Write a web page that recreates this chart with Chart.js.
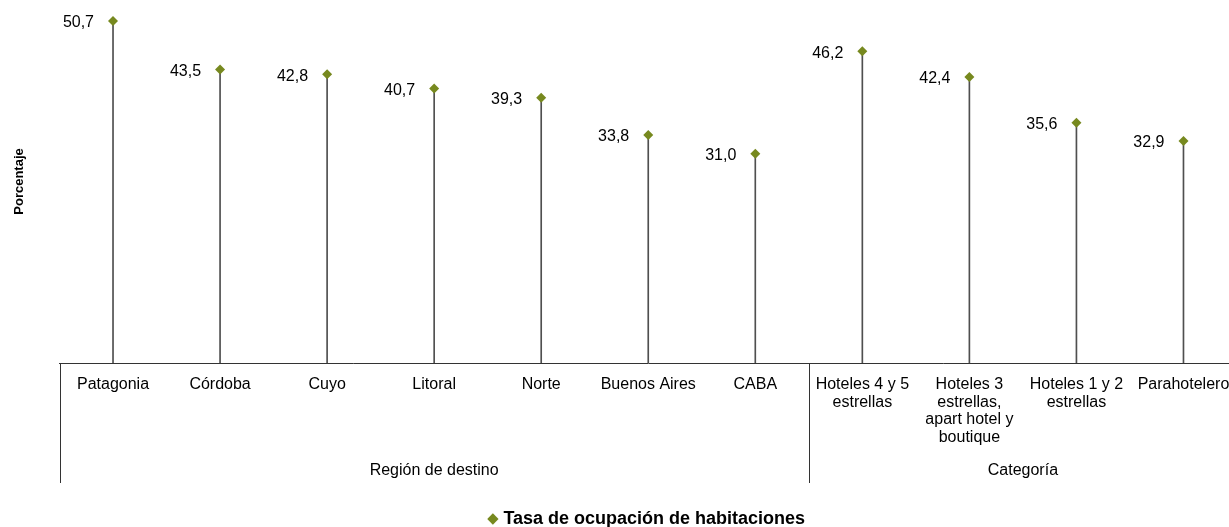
<!DOCTYPE html>
<html>
<head>
<meta charset="utf-8">
<script src="https://cdn.jsdelivr.net/npm/chart.js@4/dist/chart.umd.min.js"></script>
<style>
  html, body { margin: 0; padding: 0; background: #fff; overflow: hidden; }
  #wrap { width: 1237px; height: 538px; }
</style>
</head>
<body>
<div id="wrap"><canvas id="chart"></canvas></div>
<script>
// categorias del eje x (multilinea)
const categories = [
    "Patagonia", "Córdoba", "Cuyo", "Litoral", "Norte", "Buenos Aires", "CABA",
    ["Hoteles 4 y 5", "estrellas"],
    ["Hoteles 3", "estrellas,", "apart hotel y", "boutique"],
    ["Hoteles 1 y 2", "estrellas"],
    "Parahotelero"
];
// tasa de ocupacion (%)
const occupancy = [50.7, 43.5, 42.8, 40.7, 39.3, 33.8, 31.0, 46.2, 42.4, 35.6, 32.9];
const groupLabels = ["Región de destino", "Categoría"];
const groupSizes = [7, 4];
const seriesName = "Tasa de ocupación de habitaciones";

const FONT = "'Liberation Sans', Arial, Helvetica, sans-serif";
const GREEN = "#77891f";
const STEM = "#4f4f4f";

function fmt(v) {
    return v.toFixed(1).replace(".", ",");
}

// etiquetas de valor a la izquierda de cada punto
const valueLabels = {
    id: "valueLabels",
    afterDatasetsDraw(chart) {
        const ctx = chart.ctx;
        const meta = chart.getDatasetMeta(0);
        ctx.save();
        ctx.font = "16px " + FONT;
        ctx.fillStyle = "#000";
        ctx.textAlign = "right";
        ctx.textBaseline = "middle";
        meta.data.forEach((pt, i) => {
            ctx.fillText(fmt(occupancy[i]), pt.x - 19, pt.y + 2);
        });
        ctx.restore();
    }
};

// agrupacion de categorias debajo del eje
const groupAxis = {
    id: "groupAxis",
    afterDraw(chart) {
        const ctx = chart.ctx;
        const xs = chart.scales.x;
        const step = xs.getPixelForValue(1) - xs.getPixelForValue(0);
        const top = chart.chartArea.bottom;
        const bottom = xs.bottom;
        ctx.save();
        ctx.strokeStyle = "#333";
        ctx.lineWidth = 1;
        ctx.font = "16px " + FONT;
        ctx.fillStyle = "#000";
        ctx.textAlign = "center";
        ctx.textBaseline = "middle";
        let start = 0;
        groupSizes.forEach((n, g) => {
            const x0 = xs.getPixelForValue(start) - step / 2;
            const x1 = xs.getPixelForValue(start + n - 1) + step / 2;
            ctx.beginPath();
            ctx.moveTo(Math.round(x0) + 0.5, top);
            ctx.lineTo(Math.round(x0) + 0.5, bottom);
            ctx.stroke();
            ctx.fillText(groupLabels[g], (x0 + x1) / 2, bottom - 12);
            start += n;
        });
        ctx.restore();
    }
};

new Chart(document.getElementById("chart"), {
    type: "bar",
    data: {
        labels: categories,
        datasets: [{
            type: "line",
            label: seriesName,
            data: occupancy,
            showLine: false,
            pointStyle: "rectRot",
            pointRadius: 5,
            pointBackgroundColor: GREEN,
            pointBorderWidth: 0,
            backgroundColor: GREEN,
            borderColor: GREEN,
            order: 0,
            clip: false
        }, {
            label: "stem",
            data: occupancy,
            backgroundColor: STEM,
            barThickness: 1,
            order: 1
        }]
    },
    options: {
        responsive: true,
        maintainAspectRatio: false,
        animation: false,
        layout: { padding: 0, autoPadding: false },
        plugins: {
            tooltip: { enabled: false },
            legend: {
                position: "bottom",
                fullSize: false,
                labels: {
                    filter: (item) => item.datasetIndex === 0,
                    usePointStyle: true,
                    pointStyle: "rectRot",
                    boxHeight: 8,
                    boxWidth: 3,
                    color: "#000",
                    padding: 27,
                    font: { family: FONT, size: 18, weight: "bold" }
                }
            }
        },
        scales: {
            x: {
                offset: true,
                grid: { display: false },
                border: { display: true, color: "#333", width: 1 },
                ticks: {
                    color: "#000",
                    padding: 5,
                    maxRotation: 0,
                    autoSkip: false,
                    font: { family: FONT, size: 16, lineHeight: 1.1 }
                },
                afterFit(scale) { scale.height = 120; }
            },
            y: {
                min: 0,
                max: 53.8,
                grid: { display: false },
                border: { display: false },
                ticks: { display: false },
                title: {
                    display: true,
                    text: "Porcentaje",
                    color: "#000",
                    padding: { top: 12, bottom: 0 },
                    font: { family: FONT, size: 13, weight: "bold" }
                },
                afterFit(scale) { scale.width = 59.5; }
            }
        }
    },
    plugins: [valueLabels, groupAxis]
});
</script>
</body>
</html>
